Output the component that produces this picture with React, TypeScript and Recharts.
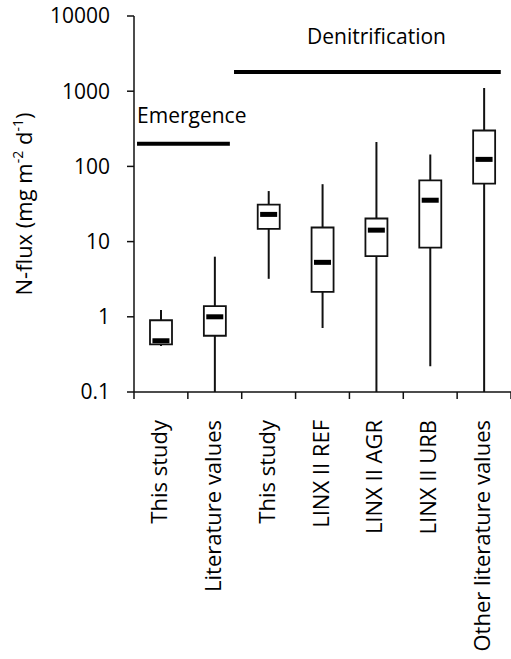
import {
  ComposedChart,
  Bar,
  Line,
  XAxis,
  YAxis,
  ReferenceLine,
} from 'recharts';

const categories = [
  'This study',
  'Literature values',
  'This study',
  'LINX II REF',
  'LINX II AGR',
  'LINX II URB',
  'Other literature values',
];
const whiskerLow = [0.41, 0.1, 3.2, 0.71, 0.1, 0.22, 0.1];
const q1 = [0.43, 0.56, 14.8, 2.15, 6.4, 8.3, 59];
const medians = [0.48, 1.0, 23, 5.3, 14.2, 35.5, 124];
const q3 = [0.9, 1.39, 31, 15.4, 20.3, 65, 300];
const whiskerHigh = [1.23, 6.3, 47, 58, 211, 144, 1100];

const yTicks = [0.1, 1, 10, 100, 1000, 10000];
// category slots: integers carry labels, half steps are the slot borders
const xTicks = [-0.5, 0, 0.5, 1, 1.5, 2, 2.5, 3, 3.5, 4, 4.5, 5, 5.5, 6, 6.5];

const emergenceLevel = 200;
const denitrificationLevel = 1800;

const FONT = "'Open Sans', sans-serif";
const INK = '#111';

const rows = categories.map((name, i) => ({
  id: String(i),
  ord: i,
  name,
  whisker: [whiskerLow[i], whiskerHigh[i]],
  box: [q1[i], q3[i]],
  med: medians[i],
}));

function YLabel(props: any) {
  const { x, y, height } = props.viewBox;
  const cx = x + 32;
  const cy = y + height / 2;
  return (
    <text
      x={cx}
      y={cy}
      transform={`rotate(-90, ${cx}, ${cy})`}
      textAnchor="middle"
      fontSize={22}
      fontFamily={FONT}
      fill="#000"
    >
      N-flux (mg m<tspan dy={-9} fontSize={14}>-2</tspan>
      <tspan dy={9}> d</tspan>
      <tspan dy={-9} fontSize={14}>-1</tspan>
      <tspan dy={9}>)</tspan>
    </text>
  );
}

function XTick(props: any) {
  const { x, y, payload } = props;
  const v = payload.value as number;
  if (!Number.isInteger(v)) {
    return <line x1={x} y1={y} x2={x} y2={y + 7} stroke={INK} strokeWidth={1.5} />;
  }
  const label = categories[v];
  const tx = x + 6;
  const ty = y + 28;
  return (
    <text
      x={tx}
      y={ty}
      transform={`rotate(-90, ${tx}, ${ty})`}
      textAnchor="end"
      fontSize={22}
      fontFamily={FONT}
      fill="#000"
    >
      {label}
    </text>
  );
}

function MedianDot(props: any) {
  const { cx, cy } = props;
  if (cx == null || cy == null) return null;
  return <rect x={cx - 8.5} y={cy - 2.5} width={17} height={5} fill="#000" />;
}

function groupLabel(text: string, dx: number, dy: number) {
  return (props: any) => {
    const { x, y } = props.viewBox;
    return (
      <text x={x + dx} y={y + dy} fontSize={21} fontFamily={FONT} fill="#000">
        {text}
      </text>
    );
  };
}

export default function App() {
  return (
    <div style={{ position: 'absolute', left: 0, top: 0, background: '#fff' }}>
      <ComposedChart
        width={511}
        height={659}
        data={rows}
        margin={{ top: 16, right: 0, bottom: 0, left: 0 }}
      >
        <XAxis
          xAxisId="num"
          dataKey="ord"
          type="number"
          domain={[-0.5, 6.5]}
          allowDataOverflow
          ticks={xTicks}
          interval={0}
          tick={XTick}
          tickLine={false}
          tickSize={0}
          tickMargin={0}
          axisLine={{ stroke: INK, strokeWidth: 1.5 }}
          height={267}
        />
        <XAxis xAxisId="w" dataKey="id" hide height={0} />
        <XAxis xAxisId="b" dataKey="id" hide height={0} />
        <YAxis
          scale="log"
          domain={[0.1, 10000]}
          ticks={yTicks}
          allowDataOverflow
          width={134}
          tickSize={7}
          tickMargin={17}
          tickFormatter={(v: number) => String(v)}
          tick={{ fontSize: 21, fontFamily: FONT, fill: '#000' }}
          tickLine={{ stroke: INK, strokeWidth: 1.5 }}
          axisLine={{ stroke: INK, strokeWidth: 1.5 }}
          label={YLabel}
        />
        <Bar
          xAxisId="w"
          dataKey="whisker"
          barSize={2}
          fill={INK}
          isAnimationActive={false}
        />
        <Bar
          xAxisId="b"
          dataKey="box"
          barSize={22}
          fill="#fff"
          stroke={INK}
          strokeWidth={1.8}
          isAnimationActive={false}
        />
        <Line
          xAxisId="w"
          dataKey="med"
          stroke="none"
          dot={MedianDot}
          activeDot={false}
          isAnimationActive={false}
        />
        <ReferenceLine
          xAxisId="num"
          segment={[
            { x: -0.444, y: emergenceLevel },
            { x: 1.28, y: emergenceLevel },
          ]}
          stroke="#000"
          strokeWidth={4}
          label={groupLabel('Emergence', 0, -21)}
        />
        <ReferenceLine
          xAxisId="num"
          segment={[
            { x: 1.357, y: denitrificationLevel },
            { x: 6.31, y: denitrificationLevel },
          ]}
          stroke="#000"
          strokeWidth={4}
          label={groupLabel('Denitrification', 73, -28)}
        />
      </ComposedChart>
    </div>
  );
}
